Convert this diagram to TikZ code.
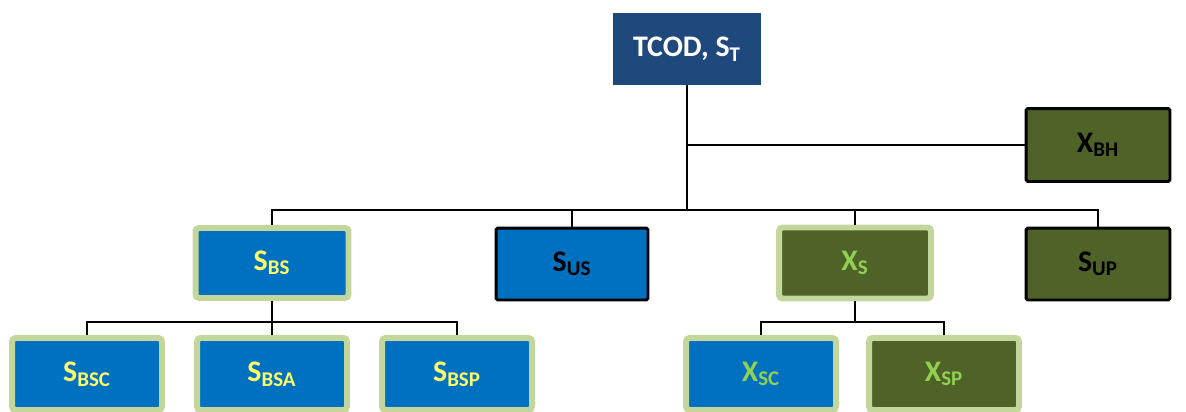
\documentclass[tikz,border=0pt]{standalone}
\usepackage{fontspec}
\setmainfont{Carlito}
\usetikzlibrary{
  positioning,
}
\definecolor{tcodblue}{HTML}{1F497D}
\definecolor{boxblue}{HTML}{0070C0}
\definecolor{olive}{HTML}{4F6228}
\definecolor{palegreen}{HTML}{C3D69B}
\definecolor{labelyellow}{HTML}{FFFF66}
\definecolor{labelgreen}{HTML}{92D050}

\begin{document}
\begin{tikzpicture}[
  x=0.02cm,
  y={(0cm,-0.02cm)},
  box/.style={
    inner sep=0pt,
    minimum width=2.96cm,
    minimum height=1.44cm,
    font={\fontsize{17}{20}\selectfont\bfseries},
  },
  top box/.style={
    box,
    fill=tcodblue,
    text=white,
  },
  dark box/.style={
    box,
    draw=black,
    line width=1.7pt,
    rounded corners=1pt,
    text=black,
    fill=#1,
  },
  pale box/.style={
    box,
    draw=palegreen,
    line width=3.4pt,
    rounded corners=2pt,
    fill=#1,
  },
  conn/.style={
    draw=black,
    line width=1.1pt,
  },
]
  \useasboundingbox (0,0) rectangle (1186,412);

  %%%%%%%%%%%%%%%%%%%% Top %%%%%%%%%%%%%%%%%%%%

  \node[top box] (tcod) at (687,49) {TCOD, S\textsubscript{T}};

  \node[dark box={olive},minimum width=2.88cm,minimum height=1.46cm]
    (xbh) at (1098,145) {X\textsubscript{BH}};

  %%%%%%%%%%%%%%%%%%%% Middle row %%%%%%%%%%%%%%%%%%%%

  \node[pale box={boxblue},text=labelyellow,minimum width=3.06cm,minimum height=1.40cm]
    (sbs) at (272,263) {S\textsubscript{BS}};
  \node[dark box={boxblue},minimum width=3.04cm]
    (sus) at (572,264) {S\textsubscript{US}};
  \node[pale box={olive},text=labelgreen,minimum width=3.04cm,minimum height=1.42cm]
    (xs) at (855,263) {X\textsubscript{S}};
  \node[dark box={olive},minimum width=2.88cm]
    (sup) at (1098,264) {S\textsubscript{UP}};

  %%%%%%%%%%%%%%%%%%%% Bottom row %%%%%%%%%%%%%%%%%%%%

  \foreach \name/\x/\idx in {sbsc/87/BSC,sbsa/272/BSA,sbsp/457/BSP} {
    \node[pale box={boxblue},text=labelyellow,minimum width=3.0cm]
      (\name) at (\x,374) {S\textsubscript{\idx}};
  }

  \node[pale box={boxblue},text=labelgreen,minimum width=3.0cm]
    (xsc) at (761,374) {X\textsubscript{SC}};
  \node[pale box={olive},text=labelgreen,minimum width=3.0cm]
    (xsp) at (944,374) {X\textsubscript{SP}};

  %%%%%%%%%%%%%%%%%%%% Connectors %%%%%%%%%%%%%%%%%%%%

  \coordinate (top bus) at (0,210);
  \coordinate (bs bus) at (0,322);

  \draw[conn] (tcod.south) -- (tcod.south |- top bus);
  \draw[conn] (xbh.west) -- (xbh.west -| tcod.south);
  \draw[conn] (sbs.north) |- (top bus -| sup.north) -- (sup.north);
  \draw[conn] (sus.north) -- (sus.north |- top bus);
  \draw[conn] (xs.north) -- (xs.north |- top bus);

  \draw[conn] (sbsc.north) |- (bs bus -| sbsp.north) -- (sbsp.north);
  \draw[conn] (sbs.south) -- (sbs.south |- bs bus);
  \draw[conn] (sbsa.north) -- (sbsa.north |- bs bus);

  \draw[conn] (xsc.north) |- (bs bus -| xsp.north) -- (xsp.north);
  \draw[conn] (xs.south) -- (xs.south |- bs bus);
\end{tikzpicture}
\end{document}
